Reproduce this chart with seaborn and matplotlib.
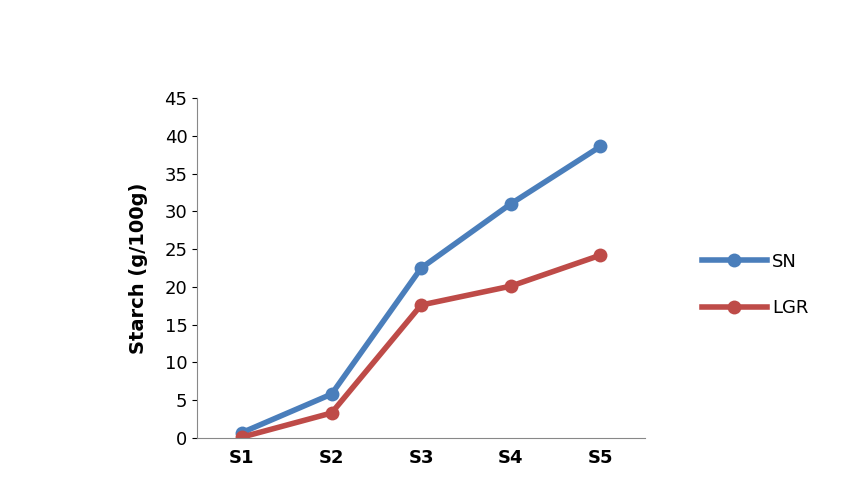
import matplotlib
matplotlib.use("Agg")
import matplotlib.pyplot as plt
import seaborn as sns
import pandas as pd

stages = ["S1", "S2", "S3", "S4", "S5"]
sn = [0.7, 5.8, 22.5, 31.0, 38.6]
lgr = [0.1, 3.3, 17.6, 20.1, 24.2]

df = pd.DataFrame({"Stage": stages * 2, "Starch": sn + lgr,
                   "Series": ["SN"] * 5 + ["LGR"] * 5})
df["x"] = list(range(5)) * 2

fig = plt.figure(figsize=(8.5, 4.86), dpi=100)
ax = fig.add_axes([0.232, 0.099, 0.527, 0.699])
sns.lineplot(data=df, x="x", y="Starch", hue="Series",
             palette={"SN": "#4a7ebb", "LGR": "#be4b48"},
             marker="o", markersize=10, markeredgewidth=0, linewidth=4, ax=ax)
ax.set_xlim(-0.5, 4.5)
ax.set_ylim(0, 45)
ax.set_yticks(range(0, 46, 5))
ax.set_xticks(range(5))
ax.set_xticklabels(stages, fontweight="bold")
ax.set_xlabel("")
ax.set_ylabel("Starch (g/100g)", fontsize=14, fontweight="bold", labelpad=12)
ax.tick_params(axis="both", labelsize=13)
ax.tick_params(axis="x", length=0, pad=8)
for s in ["top", "right"]:
    ax.spines[s].set_visible(False)
for s in ["left", "bottom"]:
    ax.spines[s].set_color("#888888")
ax.legend(loc="center left", bbox_to_anchor=(1.09, 0.45), frameon=False,
          fontsize=13, handlelength=3.6, handletextpad=0.3, labelspacing=1.6)
fig.savefig("out.png", dpi=100)
